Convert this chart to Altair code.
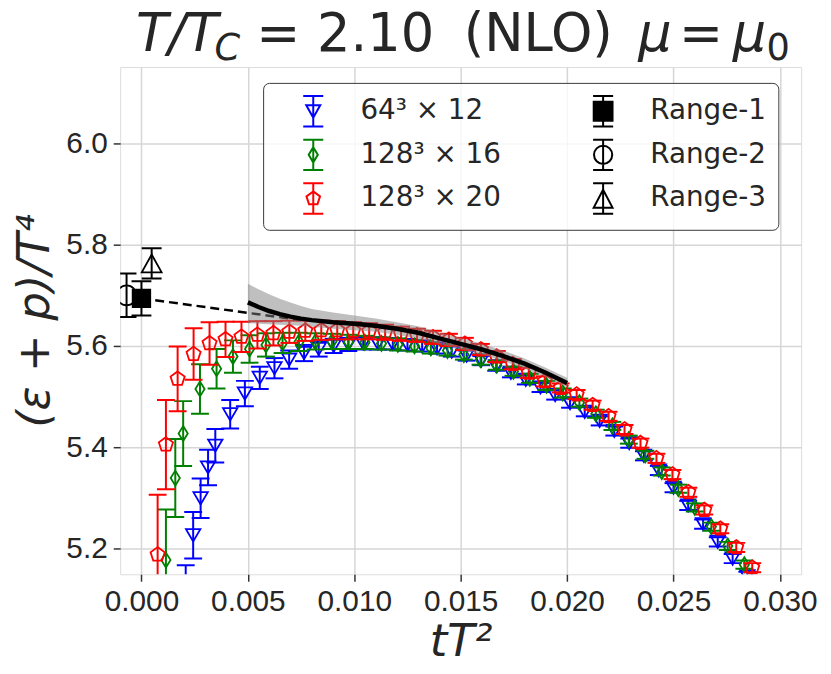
import altair as alt
import pandas as pd

# ---------------- data ----------------
# 64^3 x 12 (blue, triangle down)
blue_x = [0.00208, 0.00243, 0.00278, 0.00313, 0.00347, 0.00417, 0.00486, 0.00556, 0.00625,
          0.00694, 0.00764, 0.00833, 0.00903, 0.00972, 0.01042, 0.01111, 0.01181, 0.01250,
          0.01319, 0.01389, 0.01458, 0.01528, 0.01597, 0.01667, 0.01736, 0.01806, 0.01875,
          0.01944, 0.02014, 0.02083, 0.02153, 0.02222, 0.02292, 0.02361, 0.02431, 0.02500,
          0.02569, 0.02639, 0.02708, 0.02778, 0.02847]
blue_y = [5.100, 5.226, 5.299, 5.360, 5.403, 5.465, 5.506, 5.537, 5.556,
          5.573, 5.586, 5.594, 5.600, 5.603, 5.605, 5.605, 5.604, 5.602,
          5.599, 5.595, 5.589, 5.581, 5.571, 5.560, 5.547, 5.533, 5.518,
          5.503, 5.487, 5.470, 5.452, 5.432, 5.408, 5.383, 5.354, 5.320,
          5.285, 5.248, 5.213, 5.180, 5.145]
blue_e = [0.067, 0.046, 0.039, 0.035, 0.033, 0.028, 0.025, 0.022, 0.020,
          0.018, 0.016, 0.015, 0.014, 0.013, 0.012, 0.012, 0.011, 0.011,
          0.010, 0.010, 0.010, 0.010, 0.009, 0.009, 0.009, 0.009, 0.009,
          0.009, 0.009, 0.009, 0.009, 0.009, 0.009, 0.009, 0.009, 0.009,
          0.009, 0.009, 0.009, 0.009, 0.009]

# 128^3 x 16 (green, thin diamond)
green_x = [0.00115, 0.00159, 0.00196, 0.00275, 0.00353, 0.00430, 0.00508, 0.00585, 0.00663,
           0.00740, 0.00818, 0.00895, 0.00973, 0.01050, 0.01128, 0.01205, 0.01283, 0.01360,
           0.01438, 0.01515, 0.01593, 0.01670, 0.01748, 0.01825, 0.01903, 0.01980, 0.02058,
           0.02135, 0.02213, 0.02290, 0.02368, 0.02445, 0.02523, 0.02600, 0.02678, 0.02755,
           0.02833]
green_y = [5.177, 5.339, 5.427, 5.515, 5.555, 5.579, 5.594, 5.602, 5.606,
           5.608, 5.609, 5.609, 5.608, 5.607, 5.605, 5.603, 5.600, 5.596,
           5.591, 5.583, 5.573, 5.562, 5.550, 5.536, 5.522, 5.507, 5.488,
           5.466, 5.442, 5.415, 5.385, 5.352, 5.318, 5.281, 5.243, 5.205,
           5.168]
green_e = [0.100, 0.077, 0.064, 0.049, 0.039, 0.032, 0.027, 0.023, 0.020,
           0.018, 0.016, 0.015, 0.014, 0.013, 0.012, 0.012, 0.011, 0.011,
           0.010, 0.010, 0.010, 0.009, 0.009, 0.009, 0.009, 0.009, 0.008,
           0.008, 0.008, 0.008, 0.008, 0.008, 0.008, 0.008, 0.008, 0.008,
           0.008]

# 128^3 x 20 (red, pentagon)
red_x = [0.00076, 0.00115, 0.00170, 0.00245, 0.00320, 0.00395, 0.00470, 0.00545, 0.00620,
         0.00695, 0.00770, 0.00845, 0.00920, 0.00995, 0.01070, 0.01145, 0.01220, 0.01295,
         0.01370, 0.01445, 0.01520, 0.01595, 0.01670, 0.01745, 0.01820, 0.01895, 0.01970,
         0.02045, 0.02120, 0.02195, 0.02270, 0.02345, 0.02420, 0.02495, 0.02570, 0.02645,
         0.02720, 0.02795, 0.02870]
red_y = [5.188, 5.405, 5.535, 5.584, 5.605, 5.613, 5.618, 5.622, 5.625,
         5.628, 5.630, 5.631, 5.631, 5.630, 5.629, 5.627, 5.624, 5.621,
         5.617, 5.612, 5.604, 5.593, 5.579, 5.564, 5.547, 5.530, 5.517,
         5.504, 5.483, 5.461, 5.435, 5.408, 5.378, 5.346, 5.311, 5.276,
         5.239, 5.202, 5.162]
red_e = [0.118, 0.088, 0.064, 0.051, 0.042, 0.035, 0.030, 0.027, 0.024,
         0.022, 0.020, 0.019, 0.018, 0.017, 0.016, 0.015, 0.014, 0.013,
         0.013, 0.012, 0.012, 0.011, 0.011, 0.010, 0.010, 0.010, 0.009,
         0.009, 0.009, 0.009, 0.009, 0.009, 0.009, 0.009, 0.009, 0.009,
         0.009, 0.009, 0.009]

# continuum-extrapolated points at tT^2 -> 0 (Range-1, Range-2, Range-3)
r1_x, r1_y, r1_e = [0.0000], [5.694], [0.034]
r2_x, r2_y, r2_e = [-0.0007], [5.700], [0.043]
r3_x, r3_y, r3_e = [0.00048], [5.763], [0.030]

# fit curve with band
fit_x = [0.0050, 0.0055, 0.0060, 0.0065, 0.0070, 0.0075, 0.0080, 0.0090, 0.0100, 0.0110,
         0.0120, 0.0130, 0.0140, 0.0150, 0.0160, 0.0170, 0.0180, 0.0190, 0.0200]
fit_y = [5.686, 5.677, 5.669, 5.663, 5.658, 5.654, 5.651, 5.647, 5.644, 5.640,
         5.634, 5.626, 5.615, 5.604, 5.593, 5.580, 5.565, 5.547, 5.527]
fit_lo = [5.645, 5.644, 5.643, 5.642, 5.641, 5.640, 5.638, 5.634, 5.631, 5.628,
          5.622, 5.614, 5.604, 5.593, 5.583, 5.570, 5.555, 5.538, 5.518]
fit_hi = [5.723, 5.712, 5.702, 5.693, 5.686, 5.679, 5.673, 5.666, 5.660, 5.654,
          5.647, 5.639, 5.627, 5.616, 5.604, 5.591, 5.575, 5.557, 5.537]

# dashed linear extrapolation
dash_x = [0.0, 0.0075]
dash_y = [5.694, 5.651]

x_ticks = [0.000, 0.005, 0.010, 0.015, 0.020, 0.025, 0.030]
y_ticks = [5.2, 5.4, 5.6, 5.8, 6.0]

legend_labels = ["64³ × 12", "128³ × 16", "128³ × 20", "Range-1", "Range-2", "Range-3"]

# ---------------- styling ----------------
TXT = "#262626"
X_DOM = [-0.001, 0.031]
Y_DOM = [5.149, 6.151]

P_TRI_DOWN = "M-1,-0.85L1,-0.85L0,0.85Z"
P_DIAMOND = "M0,-1L0.62,0L0,1L-0.62,0Z"
P_PENTA = "M0,-1L0.951,-0.309L0.588,0.809L-0.588,0.809L-0.951,-0.309Z"
P_SQUARE = "M-1,-1L1,-1L1,1L-1,1Z"
P_CIRCLE = "M1,0A1,1,0,1,1,-1,0A1,1,0,1,1,1,0Z"
P_TRI_UP = "M0,-0.9L1,0.9L-1,0.9Z"

EB = "M0,-1L0,1M-0.66,-1L0.66,-1M-0.66,1L0.66,1"
legend_paths = [
    EB + "M-0.46,-0.4L0.46,-0.4L0,0.42Z",
    EB + "M0,-0.5L0.3,0L0,0.5L-0.3,0Z",
    EB + "M0,-0.47L0.447,-0.145L0.276,0.38L-0.276,0.38L-0.447,-0.145Z",
    EB + "M-0.62,-0.62L0.62,-0.62L0.62,0.62L-0.62,0.62Z",
    EB + "M0.6,0A0.6,0.6,0,1,1,-0.6,0A0.6,0.6,0,1,1,0.6,0Z",
    EB + "M0,-0.58L0.62,0.6L-0.62,0.6Z",
]
legend_strokes = ["#0000ff", "#008000", "#ff0000", "#000000", "#000000", "#000000"]
legend_fills = ["transparent", "transparent", "transparent", "#000000", "transparent", "transparent"]


def xenc(field):
    return alt.X(field + ":Q", title="tT²",
                 scale=alt.Scale(domain=X_DOM, nice=False, zero=False),
                 axis=alt.Axis(values=x_ticks, format=".3f", labelFontSize=30,
                               labelFont="Liberation Sans", labelColor=TXT,
                               labelPadding=5, tickSize=7, tickWidth=1.5,
                               tickColor="#333333", domain=False,
                               gridColor="#d6d6d6", gridWidth=1.5,
                               titleFont="DejaVu Sans", titleFontSize=45,
                               titleFontStyle="italic", titleFontWeight="normal",
                               titleColor=TXT, titlePadding=4))


def yenc(field):
    return alt.Y(field + ":Q", title="(ε + p)/T⁴",
                 scale=alt.Scale(domain=Y_DOM, nice=False, zero=False),
                 axis=alt.Axis(values=y_ticks, format=".1f", labelFontSize=30,
                               labelFont="Liberation Sans", labelColor=TXT,
                               labelPadding=6, tickSize=7, tickWidth=1.5,
                               tickColor="#333333", domain=False,
                               gridColor="#d6d6d6", gridWidth=1.5,
                               titleFont="DejaVu Sans", titleFontSize=45,
                               titleFontStyle="italic", titleFontWeight="normal",
                               titleColor=TXT, titlePadding=8))


def series_layers(xs, ys, es, color, shape, size, filled=False, cap=18):
    df = pd.DataFrame({
        "x": xs, "y": ys,
        "lo": [v - e for v, e in zip(ys, es)],
        "hi": [v + e for v, e in zip(ys, es)],
    })
    base = alt.Chart(df)
    bar = base.mark_rule(color=color, strokeWidth=2, clip=True).encode(
        x=xenc("x"), y=yenc("lo"), y2="hi")
    cap_lo = base.mark_tick(color=color, orient="horizontal", size=cap, thickness=2,
                            opacity=1, clip=True).encode(x=xenc("x"), y=yenc("lo"))
    cap_hi = base.mark_tick(color=color, orient="horizontal", size=cap, thickness=2,
                            opacity=1, clip=True).encode(x=xenc("x"), y=yenc("hi"))
    if filled:
        pts = base.mark_point(shape=shape, size=size, filled=True, fill=color,
                              strokeWidth=0, opacity=1, clip=True)
    else:
        pts = base.mark_point(shape=shape, size=size, filled=False, stroke=color,
                              strokeWidth=1.8, opacity=1, clip=True)
    pts = pts.encode(x=xenc("x"), y=yenc("y"))
    return [bar, cap_lo, cap_hi, pts]


layers = []
layers += series_layers(blue_x, blue_y, blue_e, "#0000ff", P_TRI_DOWN, 210)
layers += series_layers(green_x, green_y, green_e, "#008000", P_DIAMOND, 225)
layers += series_layers(red_x, red_y, red_e, "#ff0000", P_PENTA, 225)
layers += series_layers(r2_x, r2_y, r2_e, "#000000", P_CIRCLE, 400, cap=20)
layers += series_layers(r1_x, r1_y, r1_e, "#000000", P_SQUARE, 380, filled=True, cap=20)
layers += series_layers(r3_x, r3_y, r3_e, "#000000", P_TRI_UP, 400, cap=20)

dash_df = pd.DataFrame({"x": dash_x, "y": dash_y})
layers.append(alt.Chart(dash_df).mark_line(color="#000000", strokeWidth=2.5,
                                           strokeDash=[9, 5], clip=True)
              .encode(x=xenc("x"), y=yenc("y")))

fit_df = pd.DataFrame({"x": fit_x, "y": fit_y, "lo": fit_lo, "hi": fit_hi})
layers.append(alt.Chart(fit_df).mark_area(color="#808080", opacity=0.5, clip=True)
              .encode(x=xenc("x"), y=yenc("lo"), y2="hi"))
layers.append(alt.Chart(fit_df).mark_line(color="#000000", strokeWidth=4.5, clip=True)
              .encode(x=xenc("x"), y=yenc("y")))

# legend (built from an empty layer with explicit scale domains)
leg = alt.Legend(orient="none", legendX=144, legendY=16, columns=2, title=None,
                 labelFont="DejaVu Sans", labelFontSize=28, labelColor=TXT,
                 labelLimit=400, labelOffset=31, symbolOffset=22,
                 columnPadding=64, rowPadding=5, padding=12,
                 symbolSize=936, symbolStrokeWidth=2,
                 fillColor="rgba(255,255,255,0.8)", strokeColor="#3a3a3a",
                 cornerRadius=6)
leg_df = pd.DataFrame({"series": legend_labels})
layers.append(
    alt.Chart(leg_df).transform_filter("false")
    .mark_point(size=936, opacity=1, strokeWidth=2)
    .encode(
        shape=alt.Shape("series:N", scale=alt.Scale(domain=legend_labels, range=legend_paths), legend=leg),
        stroke=alt.Stroke("series:N", scale=alt.Scale(domain=legend_labels, range=legend_strokes), legend=leg),
        fill=alt.Fill("series:N", scale=alt.Scale(domain=legend_labels, range=legend_fills), legend=leg),
    )
)

# title pieces (mathtext-like: T/T_C = 2.10 (NLO) mu = mu_0)
one = pd.DataFrame({"k": [0]})
title_parts = [
    ("T/T", 16, -16, 53, "italic"),
    ("C", 95, -7, 37, "italic"),
    ("= 2.10", 137, -16, 53, "normal"),
    ("(NLO)", 346, -16, 53, "normal"),
    ("μ", 522, -16, 53, "italic"),
    ("=", 563, -16, 53, "normal"),
    ("μ", 617, -16, 53, "italic"),
    ("0", 651, -7, 37, "normal"),
]
for txt, tx, ty, fs, st in title_parts:
    layers.append(
        alt.Chart(one).mark_text(text=txt, font="DejaVu Sans", fontSize=fs, fontStyle=st,
                                 align="left", baseline="alphabetic", color=TXT)
        .encode(x=alt.value(tx), y=alt.value(ty))
    )

chart = alt.layer(*layers).properties(
    width=686, height=511,
    padding={"left": 113, "top": 57, "right": 22, "bottom": 94},
    autosize=alt.AutoSizeParams(type="none"),
).configure_view(
    stroke="#444444", strokeWidth=1.5
).configure(background="white")

chart.save("out.html", embed_options={"renderer": "svg", "actions": False})
